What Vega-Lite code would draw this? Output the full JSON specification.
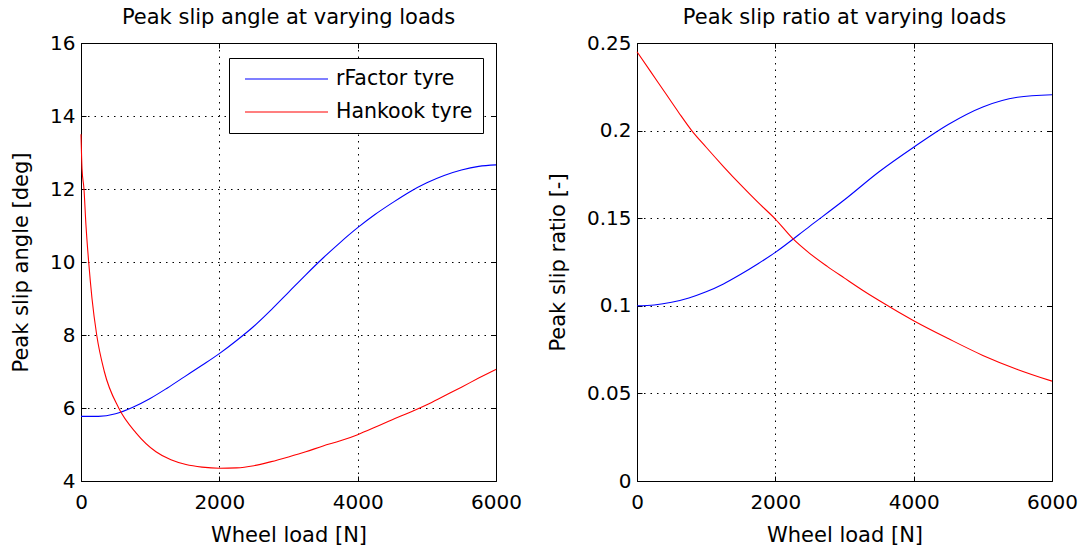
{
  "$schema": "https://vega.github.io/schema/vega-lite/v6.json",
  "padding": {"left": 10, "top": 7, "right": 5, "bottom": 5},
  "background": "white",
  "datasets": {
    "angle": [
      {"load": 0, "value": 5.77, "tyre": "rFactor tyre"},
      {"load": 250, "value": 5.77, "tyre": "rFactor tyre"},
      {"load": 500, "value": 5.84, "tyre": "rFactor tyre"},
      {"load": 750, "value": 6.02, "tyre": "rFactor tyre"},
      {"load": 1000, "value": 6.26, "tyre": "rFactor tyre"},
      {"load": 1250, "value": 6.55, "tyre": "rFactor tyre"},
      {"load": 1500, "value": 6.86, "tyre": "rFactor tyre"},
      {"load": 1750, "value": 7.17, "tyre": "rFactor tyre"},
      {"load": 2000, "value": 7.49, "tyre": "rFactor tyre"},
      {"load": 2250, "value": 7.85, "tyre": "rFactor tyre"},
      {"load": 2500, "value": 8.24, "tyre": "rFactor tyre"},
      {"load": 2750, "value": 8.69, "tyre": "rFactor tyre"},
      {"load": 3000, "value": 9.17, "tyre": "rFactor tyre"},
      {"load": 3250, "value": 9.65, "tyre": "rFactor tyre"},
      {"load": 3500, "value": 10.11, "tyre": "rFactor tyre"},
      {"load": 3750, "value": 10.54, "tyre": "rFactor tyre"},
      {"load": 4000, "value": 10.94, "tyre": "rFactor tyre"},
      {"load": 4250, "value": 11.3, "tyre": "rFactor tyre"},
      {"load": 4500, "value": 11.62, "tyre": "rFactor tyre"},
      {"load": 4750, "value": 11.92, "tyre": "rFactor tyre"},
      {"load": 5000, "value": 12.17, "tyre": "rFactor tyre"},
      {"load": 5250, "value": 12.37, "tyre": "rFactor tyre"},
      {"load": 5500, "value": 12.52, "tyre": "rFactor tyre"},
      {"load": 5750, "value": 12.62, "tyre": "rFactor tyre"},
      {"load": 6000, "value": 12.66, "tyre": "rFactor tyre"},
      {"load": 0, "value": 13.5, "tyre": "Hankook tyre"},
      {"load": 15, "value": 12.55, "tyre": "Hankook tyre"},
      {"load": 43, "value": 12.0, "tyre": "Hankook tyre"},
      {"load": 72, "value": 11.0, "tyre": "Hankook tyre"},
      {"load": 111, "value": 10.0, "tyre": "Hankook tyre"},
      {"load": 159, "value": 9.0, "tyre": "Hankook tyre"},
      {"load": 227, "value": 8.0, "tyre": "Hankook tyre"},
      {"load": 337, "value": 7.0, "tyre": "Hankook tyre"},
      {"load": 545, "value": 6.0, "tyre": "Hankook tyre"},
      {"load": 795, "value": 5.32, "tyre": "Hankook tyre"},
      {"load": 1084, "value": 4.8, "tyre": "Hankook tyre"},
      {"load": 1300, "value": 4.58, "tyre": "Hankook tyre"},
      {"load": 1518, "value": 4.45, "tyre": "Hankook tyre"},
      {"load": 1750, "value": 4.38, "tyre": "Hankook tyre"},
      {"load": 2000, "value": 4.35, "tyre": "Hankook tyre"},
      {"load": 2250, "value": 4.36, "tyre": "Hankook tyre"},
      {"load": 2500, "value": 4.42, "tyre": "Hankook tyre"},
      {"load": 2750, "value": 4.53, "tyre": "Hankook tyre"},
      {"load": 3000, "value": 4.66, "tyre": "Hankook tyre"},
      {"load": 3250, "value": 4.8, "tyre": "Hankook tyre"},
      {"load": 3500, "value": 4.96, "tyre": "Hankook tyre"},
      {"load": 3750, "value": 5.1, "tyre": "Hankook tyre"},
      {"load": 4000, "value": 5.27, "tyre": "Hankook tyre"},
      {"load": 4250, "value": 5.47, "tyre": "Hankook tyre"},
      {"load": 4500, "value": 5.68, "tyre": "Hankook tyre"},
      {"load": 4750, "value": 5.88, "tyre": "Hankook tyre"},
      {"load": 5000, "value": 6.09, "tyre": "Hankook tyre"},
      {"load": 5250, "value": 6.33, "tyre": "Hankook tyre"},
      {"load": 5500, "value": 6.57, "tyre": "Hankook tyre"},
      {"load": 5750, "value": 6.82, "tyre": "Hankook tyre"},
      {"load": 6000, "value": 7.06, "tyre": "Hankook tyre"}
    ],
    "ratio": [
      {"load": 0, "value": 0.1, "tyre": "rFactor tyre"},
      {"load": 250, "value": 0.1005, "tyre": "rFactor tyre"},
      {"load": 500, "value": 0.102, "tyre": "rFactor tyre"},
      {"load": 750, "value": 0.1045, "tyre": "rFactor tyre"},
      {"load": 1000, "value": 0.108, "tyre": "rFactor tyre"},
      {"load": 1250, "value": 0.1125, "tyre": "rFactor tyre"},
      {"load": 1500, "value": 0.118, "tyre": "rFactor tyre"},
      {"load": 1750, "value": 0.124, "tyre": "rFactor tyre"},
      {"load": 2000, "value": 0.1305, "tyre": "rFactor tyre"},
      {"load": 2500, "value": 0.1455, "tyre": "rFactor tyre"},
      {"load": 3000, "value": 0.1605, "tyre": "rFactor tyre"},
      {"load": 3500, "value": 0.1765, "tyre": "rFactor tyre"},
      {"load": 4000, "value": 0.1905, "tyre": "rFactor tyre"},
      {"load": 4500, "value": 0.2035, "tyre": "rFactor tyre"},
      {"load": 5000, "value": 0.2135, "tyre": "rFactor tyre"},
      {"load": 5500, "value": 0.219, "tyre": "rFactor tyre"},
      {"load": 6000, "value": 0.2205, "tyre": "rFactor tyre"},
      {"load": 0, "value": 0.245, "tyre": "Hankook tyre"},
      {"load": 200, "value": 0.2335, "tyre": "Hankook tyre"},
      {"load": 400, "value": 0.222, "tyre": "Hankook tyre"},
      {"load": 600, "value": 0.2105, "tyre": "Hankook tyre"},
      {"load": 791, "value": 0.2, "tyre": "Hankook tyre"},
      {"load": 1000, "value": 0.1905, "tyre": "Hankook tyre"},
      {"load": 1250, "value": 0.1795, "tyre": "Hankook tyre"},
      {"load": 1500, "value": 0.169, "tyre": "Hankook tyre"},
      {"load": 1750, "value": 0.159, "tyre": "Hankook tyre"},
      {"load": 2000, "value": 0.1495, "tyre": "Hankook tyre"},
      {"load": 2253, "value": 0.1383, "tyre": "Hankook tyre"},
      {"load": 2500, "value": 0.1298, "tyre": "Hankook tyre"},
      {"load": 2750, "value": 0.1225, "tyre": "Hankook tyre"},
      {"load": 3000, "value": 0.1158, "tyre": "Hankook tyre"},
      {"load": 3250, "value": 0.1092, "tyre": "Hankook tyre"},
      {"load": 3500, "value": 0.103, "tyre": "Hankook tyre"},
      {"load": 4000, "value": 0.0915, "tyre": "Hankook tyre"},
      {"load": 4500, "value": 0.0813, "tyre": "Hankook tyre"},
      {"load": 5000, "value": 0.0717, "tyre": "Hankook tyre"},
      {"load": 5500, "value": 0.0637, "tyre": "Hankook tyre"},
      {"load": 6000, "value": 0.057, "tyre": "Hankook tyre"}
    ]
  },
  "hconcat": [
    {
      "width": 415,
      "height": 438,
      "title": {"text": "Peak slip angle at varying loads", "offset": 5},
      "data": {"name": "angle"},
      "layer": [
        {
          "mark": {"type": "line", "strokeWidth": 1.1, "interpolate": "monotone"},
          "encoding": {
            "x": {"field": "load", "type": "quantitative", "scale": {"domain": [0, 6000], "nice": false},
                  "axis": {"orient": "bottom", "values": [0, 2000, 4000, 6000], "format": "d", "title": "Wheel load [N]", "grid": true}},
            "y": {"field": "value", "type": "quantitative", "scale": {"domain": [4, 16], "nice": false, "zero": false},
                  "axis": {"orient": "left", "values": [4, 6, 8, 10, 12, 14, 16], "format": "d", "title": "Peak slip angle [deg]", "grid": true}},
            "color": {"field": "tyre", "type": "nominal",
                      "scale": {"domain": ["rFactor tyre", "Hankook tyre"], "range": ["#0000ff", "#ff0000"]},
                      "legend": {"orient": "none", "legendX": 148, "legendY": 15, "direction": "vertical", "title": null,
                                 "symbolType": "stroke", "symbolSize": 6889, "symbolStrokeWidth": 1.2, "symbolOffset": 5,
                                 "labelFontSize": 20.5, "labelColor": "black", "labelOffset": 7, "clipHeight": 22, "rowPadding": 11,
                                 "padding": 10, "strokeColor": "black", "fillColor": "white"}}
          }
        },
        {
          "mark": {"type": "line", "strokeOpacity": 0},
          "encoding": {
            "x": {"field": "load", "type": "quantitative", "scale": {"domain": [0, 6000], "nice": false},
                  "axis": {"orient": "top", "values": [0, 2000, 4000, 6000], "labels": false, "title": null, "grid": false}},
            "y": {"field": "value", "type": "quantitative", "scale": {"domain": [4, 16], "nice": false, "zero": false},
                  "axis": {"orient": "right", "values": [4, 6, 8, 10, 12, 14, 16], "labels": false, "title": null, "grid": false}},
            "detail": {"field": "tyre"}
          }
        }
      ],
      "resolve": {"axis": {"x": "independent", "y": "independent"}}
    },
    {
      "width": 415,
      "height": 438,
      "title": {"text": "Peak slip ratio at varying loads", "offset": 5},
      "data": {"name": "ratio"},
      "layer": [
        {
          "mark": {"type": "line", "strokeWidth": 1.1, "interpolate": "monotone"},
          "encoding": {
            "x": {"field": "load", "type": "quantitative", "scale": {"domain": [0, 6000], "nice": false},
                  "axis": {"orient": "bottom", "values": [0, 2000, 4000, 6000], "format": "d", "title": "Wheel load [N]", "grid": true}},
            "y": {"field": "value", "type": "quantitative", "scale": {"domain": [0, 0.25], "nice": false},
                  "axis": {"orient": "left", "values": [0, 0.05, 0.1, 0.15, 0.2, 0.25], "format": "~g", "title": "Peak slip ratio [-]", "grid": true}},
            "color": {"field": "tyre", "type": "nominal",
                      "scale": {"domain": ["rFactor tyre", "Hankook tyre"], "range": ["#0000ff", "#ff0000"]},
                      "legend": null}
          }
        },
        {
          "mark": {"type": "line", "strokeOpacity": 0},
          "encoding": {
            "x": {"field": "load", "type": "quantitative", "scale": {"domain": [0, 6000], "nice": false},
                  "axis": {"orient": "top", "values": [0, 2000, 4000, 6000], "labels": false, "title": null, "grid": false}},
            "y": {"field": "value", "type": "quantitative", "scale": {"domain": [0, 0.25], "nice": false},
                  "axis": {"orient": "right", "values": [0, 0.05, 0.1, 0.15, 0.2, 0.25], "labels": false, "title": null, "grid": false}},
            "detail": {"field": "tyre"}
          }
        }
      ],
      "resolve": {"axis": {"x": "independent", "y": "independent"}}
    }
  ],
  "spacing": 141,
  "bounds": "flush",
  "resolve": {"scale": {"color": "independent"}, "legend": {"color": "independent"}},
  "config": {
    "font": "DejaVu Sans",
    "view": {"stroke": null},
    "axis": {
      "domainColor": "black", "domainWidth": 1, "tickColor": "black", "tickSize": -5, "tickWidth": 1,
      "labelFontSize": 20, "labelColor": "black", "labelFont": "DejaVu Sans",
      "labelFlush": false, "labelOverlap": false, "labelBound": false,
      "titleFontSize": 21, "titleFontWeight": "normal", "titleColor": "black", "titleFont": "DejaVu Sans",
      "gridColor": "black", "gridDash": [1.5, 5], "gridOpacity": 1, "gridWidth": 1
    },
    "axisX": {"labelPadding": 16, "titlePadding": 12},
    "axisY": {"labelPadding": 11, "titlePadding": 18},
    "title": {"fontSize": 21, "fontWeight": "normal", "color": "black", "font": "DejaVu Sans"},
    "legend": {"labelFont": "DejaVu Sans"}
  }
}
